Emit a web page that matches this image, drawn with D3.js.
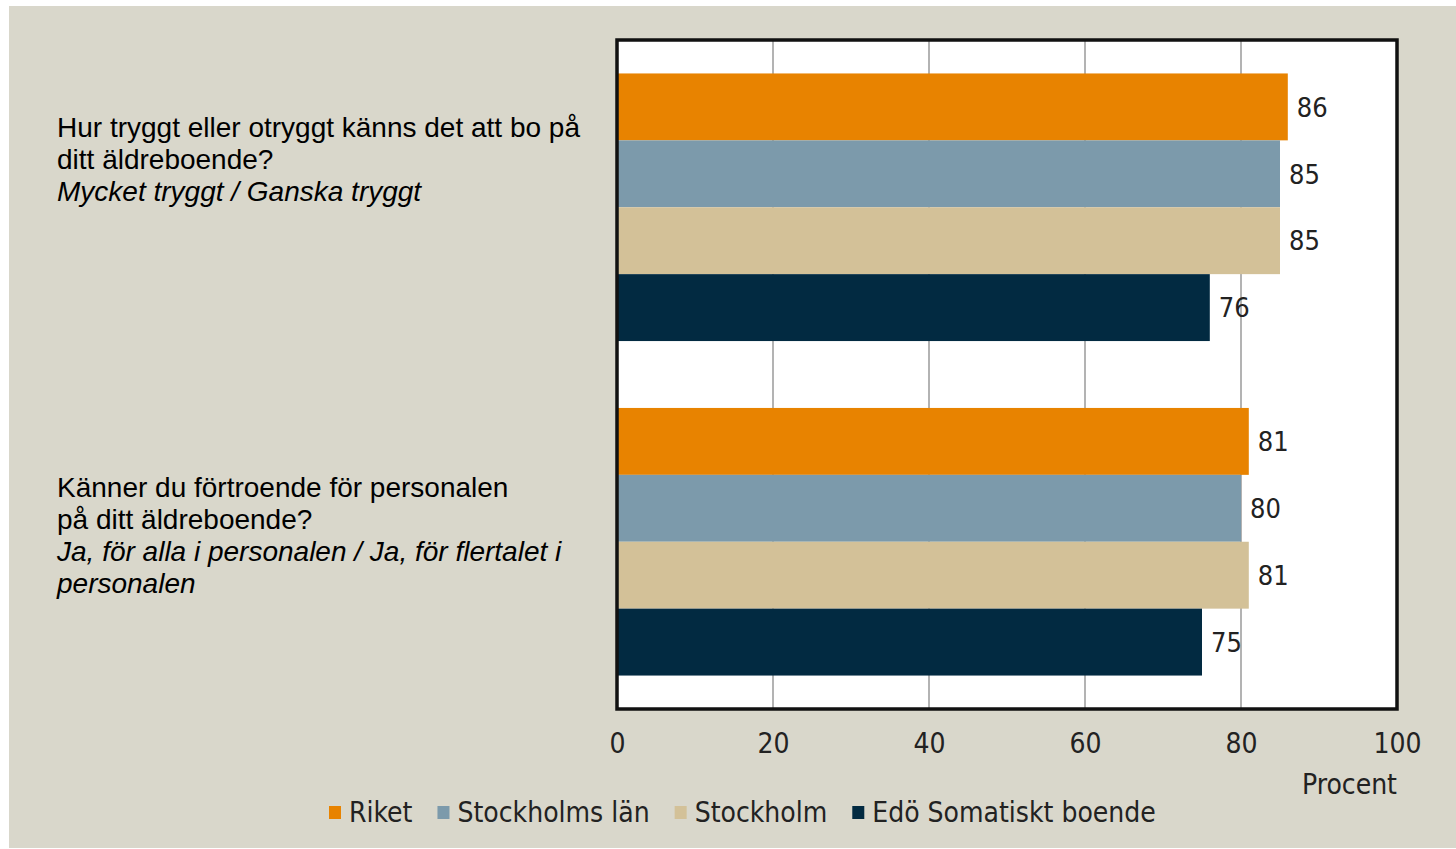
<!DOCTYPE html>
<html lang="sv">
<head>
  <meta charset="utf-8">
  <title>Trygghet och förtroende</title>
  <script src="https://cdn.jsdelivr.net/npm/d3@7"></script>
  <style>
    body { margin: 0; background: #fff; }
  </style>
</head>
<body>
  <script>
    // data
    const questions = ["q1", "q2"];
    const questionLines = [
      ["Hur tryggt eller otryggt känns det att bo på", "ditt äldreboende?"],
      ["Känner du förtroende för personalen", "på ditt äldreboende?"]
    ];
    const answerLines = [
      ["Mycket tryggt / Ganska tryggt"],
      ["Ja, för alla i personalen / Ja, för flertalet i", "personalen"]
    ];
    const seriesNames = ["Riket", "Stockholms län", "Stockholm", "Edö Somatiskt boende"];
    const riket = [86, 81];
    const stockholmsLan = [85, 80];
    const stockholm = [85, 81];
    const edo = [76, 75];
    const xTicks = [0, 20, 40, 60, 80, 100];
    const colors = ["#e88300", "#7c9aab", "#d3c198", "#022a41"];

    const seriesValues = [riket, stockholmsLan, stockholm, edo];
    const rows = [];
    questions.forEach((q, qi) => {
      seriesNames.forEach((s, si) => rows.push({ q: q, s: s, v: seriesValues[si][qi] }));
    });

    const W = 1456, H = 849;
    const plot = { left: 617, right: 1397, top: 40, bottom: 709 };
    const chartFont = "'DejaVu Sans Condensed', 'DejaVu Sans', sans-serif";
    const textFont = "'Liberation Sans', Arial, sans-serif";

    const svg = d3.select("body").append("svg")
      .attr("width", W).attr("height", H);

    // background panel
    svg.append("rect")
      .attr("x", 9).attr("y", 6).attr("width", W - 9).attr("height", H - 7)
      .attr("fill", "#d9d7cb");

    // scales
    const x = d3.scaleLinear().domain([0, 100]).range([plot.left, plot.right]);
    const y0 = d3.scaleBand().domain(questions).range([plot.top, plot.bottom]);
    const y1 = d3.scaleBand().domain(seriesNames).range([0, y0.bandwidth()]).paddingOuter(0.5);

    // plot area
    svg.append("rect")
      .attr("x", plot.left).attr("y", plot.top)
      .attr("width", plot.right - plot.left).attr("height", plot.bottom - plot.top)
      .attr("fill", "#fff");

    // gridlines
    svg.append("g").selectAll("line")
      .data(xTicks.filter(t => t > 0 && t < 100)).join("line")
      .attr("x1", d => x(d)).attr("x2", d => x(d))
      .attr("y1", plot.top).attr("y2", plot.bottom)
      .attr("stroke", "#9a9a9a").attr("stroke-width", 1.5);

    // bars
    const bars = svg.append("g");
    bars.selectAll("rect").data(rows).join("rect")
      .attr("x", x(0))
      .attr("y", d => y0(d.q) + y1(d.s))
      .attr("width", d => x(d.v) - x(0))
      .attr("height", y1.bandwidth())
      .attr("fill", d => colors[seriesNames.indexOf(d.s)]);

    // value labels
    bars.selectAll("text").data(rows).join("text")
      .attr("x", d => x(d.v) + 9)
      .attr("y", d => y0(d.q) + y1(d.s) + y1.bandwidth() / 2)
      .attr("dy", "0.36em")
      .attr("font-family", chartFont)
      .attr("font-size", 27)
      .attr("fill", "#222")
      .text(d => d.v);

    // frame
    svg.append("rect")
      .attr("x", plot.left).attr("y", plot.top)
      .attr("width", plot.right - plot.left).attr("height", plot.bottom - plot.top)
      .attr("fill", "none").attr("stroke", "#111").attr("stroke-width", 3.5);

    // x axis
    const xAxis = d3.axisBottom(x).tickValues(xTicks).tickSize(0).tickPadding(24);
    const xAxisG = svg.append("g")
      .attr("transform", `translate(0, ${plot.bottom})`)
      .call(xAxis);
    xAxisG.select(".domain").remove();
    xAxisG.selectAll("text")
      .attr("font-family", chartFont)
      .attr("font-size", 28)
      .attr("fill", "#222");

    svg.append("text")
      .attr("x", plot.right).attr("y", 794)
      .attr("text-anchor", "end")
      .attr("font-family", chartFont)
      .attr("font-size", 28)
      .attr("fill", "#222")
      .text("Procent");

    // question texts on the left
    const qBaselines = [137, 497];
    questions.forEach((q, qi) => {
      const t = svg.append("text")
        .attr("font-family", textFont)
        .attr("font-size", 28)
        .attr("fill", "#000");
      const lines = questionLines[qi].map(l => ({ l: l, italic: false }))
        .concat(answerLines[qi].map(l => ({ l: l, italic: true })));
      lines.forEach((line, li) => {
        t.append("tspan")
          .attr("x", 57)
          .attr("y", qBaselines[qi] + li * 32)
          .attr("font-style", line.italic ? "italic" : "normal")
          .text(line.l);
      });
    });

    // legend
    const legend = svg.append("g").attr("transform", "translate(329, 812)");
    let lx = 0;
    seriesNames.forEach((s, i) => {
      const item = legend.append("g").attr("transform", `translate(${lx}, 0)`);
      item.append("rect")
        .attr("x", 0).attr("y", -6).attr("width", 12).attr("height", 13)
        .attr("fill", colors[i]);
      const label = item.append("text")
        .attr("x", 20).attr("dy", "0.36em")
        .attr("font-family", chartFont)
        .attr("font-size", 28)
        .attr("fill", "#222")
        .text(s);
      lx += 20 + label.node().getComputedTextLength() + 25;
    });
  </script>
</body>
</html>
